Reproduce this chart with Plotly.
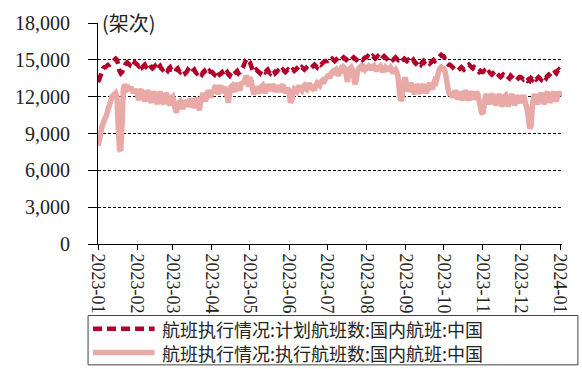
import pandas as pd
import plotly.graph_objects as go

# Daily domestic flights in China, 2023-01-01 .. 2024-01-02 (one row per month)
planned = [
    # 2023-01
    13200, 13400, 13700, 14000, 14300, 14400, 14400, 14500, 14600, 14600, 14700, 14800, 14900, 15000, 15100, 15000,
    14600, 14100, 13900, 14000, 14300, 14500, 14700, 14800, 14700, 14600, 14800, 14700, 14600, 14800, 14700,
    # 2023-02
    14600, 14500, 14700, 14600, 14400, 14500, 14600, 14400, 14300, 14500, 14600, 14400, 14300, 14400, 14500, 14300,
    14200, 14400, 14500, 14300, 14200, 14300, 14400, 14200, 14100, 14300, 14400, 14200,
    # 2023-03
    14200, 14100, 14000, 14200, 14300, 14100, 14000, 14100, 14200, 14100, 13900, 14000, 14200, 14100, 14000, 13900,
    14100, 14200, 14000, 13900, 14000, 14100, 13900, 13800, 14000, 14100, 13900, 13800, 14000, 14100, 14000,
    # 2023-04
    14000, 13900, 13800, 14000, 14100, 13900, 13800, 13900, 14000, 13800, 13700, 13900, 14000, 13800, 13700, 13900,
    14000, 13800, 13900, 14000, 14100, 13900, 14000, 14200, 14300, 14500, 14800, 15000, 15100, 14900,
    # 2023-05
    14800, 14500, 14200, 14000, 14100, 14200, 14100, 14000, 13900, 14100, 14200, 14100, 14000, 14100, 14200, 14000,
    13900, 14100, 14200, 14100, 13900, 14000, 14100, 14000, 13900, 14100, 14200, 14100, 14000, 14100, 14200,
    # 2023-06
    14100, 14000, 14100, 14200, 14100, 14200, 14300, 14200, 14100, 14300, 14400, 14300, 14200, 14300, 14400, 14500,
    14400, 14300, 14400, 14500, 14600, 14500, 14400, 14600, 14700, 14600, 14700, 14800, 14900, 14900,
    # 2023-07
    14900, 15000, 14900, 15000, 15100, 15000, 14900, 15000, 15100, 15200, 15100, 15000, 15100, 15200, 15100, 15000,
    15100, 15200, 15100, 15000, 15100, 15200, 15100, 15000, 15100, 15200, 15200, 15100, 15000, 15100, 15200,
    # 2023-08
    15200, 15300, 15200, 15100, 15200, 15300, 15200, 15100, 15200, 15300, 15200, 15100, 15000, 15200, 15300, 15200,
    15100, 15200, 15300, 15200, 15100, 15000, 15100, 15200, 15100, 15000, 15100, 15000, 14900, 15000, 15100,
    # 2023-09
    15000, 14900, 15000, 14900, 14800, 14900, 15000, 14800, 14700, 14800, 14900, 14700, 14600, 14800, 14900, 14700,
    14600, 14700, 14800, 14700, 14800, 14900, 15000, 14900, 15000, 15100, 15200, 15300, 15400, 15300,
    # 2023-10
    15300, 15100, 14900, 14700, 14600, 14600, 14500, 14400, 14300, 14200, 14200, 14100, 14200, 14300, 14400, 14300,
    14200, 14300, 14400, 14500, 14600, 14500, 14400, 14300, 14400, 14300, 14200, 14100, 14000, 14100, 14000,
    # 2023-11
    14000, 14100, 13900, 13800, 13900, 14000, 13900, 13800, 13900, 13800, 13700, 13900, 13800, 13700, 13600, 13700,
    13800, 13700, 13600, 13700, 13600, 13500, 13700, 13600, 13500, 13600, 13700, 13600, 13500, 13600,
    # 2023-12
    13600, 13500, 13400, 13500, 13400, 13300, 13400, 13300, 13500, 13400, 13600, 13500, 13400, 13500, 13600, 13500,
    13400, 13600, 13700, 13600, 13500, 13700, 13800, 13700, 13600, 13800, 13900, 14000, 13900, 14100, 14200,
    # 2024-01
    14100, 14200,
]

executed = [
    # 2023-01
    8000, 8400, 8900, 9500, 9800, 10100, 10300, 10600, 11000, 11300, 11600, 12000, 12100, 12200, 12300, 12000,
    9500, 7700, 7600, 9800, 12600, 13000, 12800, 12600, 12700, 12500, 12800, 12500, 12300, 12600, 12400,
    # 2023-02
    12300, 11700, 12400, 12600, 12300, 12000, 11600, 12200, 12500, 12300, 11800, 11500, 12100, 12400, 12200, 11700,
    11400, 12000, 12400, 12100, 11600, 11400, 12000, 12300, 11900, 11500, 11300, 11900,
    # 2023-03
    12000, 11600, 11000, 10700, 11200, 11500, 11600, 11300, 11000, 11400, 11700, 11500, 11200, 11600, 11800, 11600,
    11100, 11300, 11700, 11900, 11400, 10900, 11500, 11900, 12300, 12000, 11600, 12200, 12500, 12300, 11900,
    # 2023-04
    12500, 12300, 12700, 12900, 12600, 12200, 12700, 12900, 12600, 12300, 12800, 12500, 12000, 11500, 12300, 12800,
    12900, 12600, 12400, 12900, 13100, 12800, 12500, 13000, 13200, 13000, 13400, 13700, 13500, 12800,
    # 2023-05
    13600, 13300, 12700, 12200, 12400, 12800, 12600, 12300, 12500, 12800, 12900, 12600, 12300, 12700, 13000, 12800,
    12500, 12700, 13000, 12800, 12400, 12600, 12900, 12700, 12400, 12800, 13000, 12600, 12300, 12500, 12700,
    # 2023-06
    12400, 11500, 11700, 12300, 12600, 12500, 12400, 12700, 12900, 12600, 12500, 12800, 12900, 12700, 12600, 12900,
    13100, 12800, 12700, 13000, 12500, 12900, 13100, 13000, 12900, 13200, 13300, 13100, 13300, 13500,
    # 2023-07
    13600, 13800, 13500, 13900, 14000, 13800, 14100, 14200, 14000, 13700, 14100, 14300, 14200, 14400, 14300, 13800,
    13200, 13900, 14300, 14400, 14200, 13600, 13000, 13400, 14100, 14300, 14400, 14500, 14300, 14400, 14200,
    # 2023-08
    14300, 14400, 14500, 14400, 14200, 14400, 14500, 14300, 14100, 14300, 14400, 14500, 14300, 14000, 14200, 14400,
    14300, 14100, 14300, 14400, 14200, 13900, 14100, 14200, 14000, 13600, 12500, 11700, 11800, 12900, 13400,
    # 2023-09
    13400, 12900, 12400, 12800, 13100, 12900, 12500, 12200, 12700, 13000, 12800, 12400, 12300, 12800, 13000, 12700,
    12300, 12500, 12900, 13100, 12800, 12600, 13000, 13300, 13200, 13600, 14000, 14300, 14400, 14300,
    # 2023-10
    14300, 14100, 13600, 12900, 12400, 12100, 12300, 11900, 12200, 12500, 12300, 11800, 12000, 12400, 12200, 11700,
    12100, 12500, 12300, 11900, 11700, 12200, 12400, 12100, 11800, 12000, 12400, 12200, 11700, 11200, 10700,
    # 2023-11
    10600, 11300, 12000, 12200, 11800, 11400, 11700, 12100, 12200, 11700, 11300, 11600, 12000, 12200, 11800, 11200,
    11500, 12000, 12100, 11700, 11200, 11600, 12000, 12200, 11800, 11300, 11500, 11900, 12100, 11700,
    # 2023-12
    11500, 11900, 12100, 11800, 11300, 11000, 10200, 9400, 9600, 11200, 11900, 12200, 11800, 11400, 11700, 12100,
    12300, 11900, 11400, 11600, 12200, 12400, 12000, 11500, 11800, 12200, 12400, 12000, 11600, 12100, 12400,
    # 2024-01
    12100, 12400,
]

series_names = [
    "航班执行情况:计划航班数:国内航班:中国",
    "航班执行情况:执行航班数:国内航班:中国",
]
month_ticks = ["2023-01", "2023-02", "2023-03", "2023-04", "2023-05", "2023-06", "2023-07",
               "2023-08", "2023-09", "2023-10", "2023-11", "2023-12", "2024-01"]
y_ticks = [0, 3000, 6000, 9000, 12000, 15000, 18000]
unit_label = "(架次)"

dates = pd.date_range("2023-01-01", periods=len(planned), freq="D")

PLAN_COLOR = "#B0002A"
EXEC_COLOR = "#E8A9A7"
NUM_FONT = "Liberation Serif"
CJK_FONT = "Noto Sans CJK SC"

W, H = 582, 369
M_L, M_R, M_T, M_B = 98, 17, 20, 125
plot_w = W - M_L - M_R
plot_h = H - M_T - M_B


def px_x(px):
    return (px - M_L) / plot_w


def px_y(py):
    return (H - M_B - py) / plot_h


fig = go.Figure()
fig.add_trace(go.Scatter(
    x=dates, y=executed, mode="lines", name=series_names[1],
    line=dict(color=EXEC_COLOR, width=5.5, simplify=False), showlegend=False,
))
fig.add_trace(go.Scatter(
    x=dates, y=planned, mode="lines", name=series_names[0],
    line=dict(color=PLAN_COLOR, width=4.5, dash="9px,5px", simplify=False), showlegend=False,
))

fig.update_layout(
    width=W, height=H,
    margin=dict(l=M_L, r=M_R, t=M_T, b=M_B),
    paper_bgcolor="white", plot_bgcolor="white",
    xaxis=dict(
        range=["2023-01-01", "2024-01-02 12:00"],
        tickvals=month_ticks, ticktext=month_ticks,
        tickangle=90, ticks="outside", ticklen=5, tickcolor="black",
        showline=True, linecolor="black", linewidth=1,
        showgrid=False, zeroline=False,
        tickfont=dict(family=NUM_FONT, size=18, color="#222"),
    ),
    yaxis=dict(
        range=[0, 18000], tickvals=y_ticks,
        ticktext=[f"{v:,}" for v in y_ticks],
        ticks="outside", ticklen=9, tickcolor="black",
        showline=True, linecolor="black", linewidth=1,
        showgrid=True, gridcolor="black", gridwidth=1, griddash="3px,2px",
        zeroline=False, ticklabelstandoff=14,
        tickfont=dict(family=NUM_FONT, size=20, color="#222"),
    ),
)

# unit label above the value axis
fig.add_annotation(
    x=px_x(100), y=px_y(19), xref="paper", yref="paper",
    xanchor="left", yanchor="middle", showarrow=False,
    text=unit_label, font=dict(family=CJK_FONT, size=20, color="#222"),
)

# legend box below the chart
fig.add_shape(
    type="rect", xref="paper", yref="paper", layer="above",
    x0=px_x(88), x1=px_x(581), y0=px_y(316.5), y1=px_y(366.5),
    line=dict(color="#444", width=1), fillcolor="white",
)
legend_rows = [
    (series_names[0], PLAN_COLOR, "9px,5px", 4.5, 330),
    (series_names[1], EXEC_COLOR, "solid", 5.5, 354),
]
for name, color, dash, width, row_y in legend_rows:
    fig.add_shape(
        type="line", xref="paper", yref="paper", layer="above",
        x0=px_x(93), x1=px_x(155), y0=px_y(row_y), y1=px_y(row_y),
        line=dict(color=color, width=width, dash=dash),
    )
    fig.add_annotation(
        x=px_x(160), y=px_y(row_y), xref="paper", yref="paper",
        xanchor="left", yanchor="middle", showarrow=False,
        text=name, font=dict(family=CJK_FONT, size=18, color="#222"),
    )

fig.write_html("out.html")
